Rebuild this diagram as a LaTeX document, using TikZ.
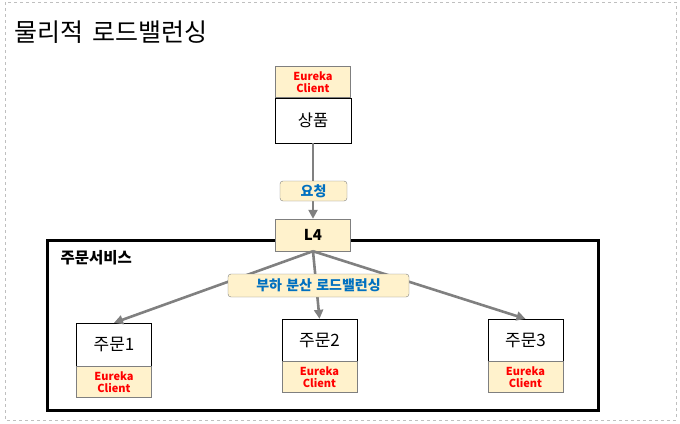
\documentclass[tikz,border=0pt]{standalone}
\usepackage{fontspec}
\setmainfont{Noto Sans CJK KR}
\usepackage{xcolor}
\usetikzlibrary{arrows.meta,positioning}
\definecolor{cream}{HTML}{FFF2CC}
\definecolor{boxgray}{HTML}{7F7F7F}
\definecolor{linegray}{HTML}{808080}
\definecolor{tagblue}{HTML}{0070C0}
\definecolor{dashgray}{HTML}{BFBFBF}

\begin{document}
\begin{tikzpicture}[
  x=1pt,y=-1pt,
  >={Triangle[length=9pt,width=9pt]},
  eureka/.style={draw=boxgray,fill=cream,minimum width=75pt,minimum height=31pt,inner sep=0pt,align=center,text=red,font=\bfseries\fontsize{11}{12}\selectfont},
  svc/.style={draw=black,fill=white,minimum width=75pt,minimum height=43pt,inner sep=0pt,font=\fontsize{17}{18}\selectfont},
  gate/.style={draw=boxgray,fill=cream,minimum width=75pt,minimum height=32pt,inner sep=0pt,font=\bfseries\fontsize{15}{16}\selectfont},
  tag/.style={draw=boxgray,fill=cream,rounded corners=3pt,inner sep=0pt,text=tagblue,font=\bfseries\fontsize{14}{16}\selectfont},
  frame/.style={draw=black,line width=3pt,minimum width=551pt,minimum height=170pt,inner sep=0pt},
  edge/.style={->,draw=linegray,line width=2.6pt}
]
\useasboundingbox (0,0) rectangle (680,423);
\draw[dashgray,dashed,line width=0.8pt] (5,2) rectangle (676,420);
\node[anchor=west,font=\fontsize{25}{28}\selectfont] (title) at (11,32) {물리적\hspace{0.35em}로드밸런싱};

% product service
\node[eureka] (eu0) at (313,82) {Eureka\\Client};
\node[svc,below=0pt of eu0,minimum width=76pt,minimum height=45pt,font=\fontsize{16.5}{18}\selectfont] (prod) {상품};

% order service group
\node[frame] (group) at (322.5,325) {};
\node[anchor=west,font=\bfseries\fontsize{15.5}{17}\selectfont] (grouplbl) at (57,258) {주문서비스};
\node[gate] (l4) at (313,235) {L4};

\node[svc] (ord1) at (114,344.5) {주문1};
\node[eureka,below=0pt of ord1] (eu1) {Eureka\\Client};
\node[svc,minimum height=42pt] (ord2) at (319.5,340) {주문2};
\node[eureka,below=0pt of ord2] (eu2) {Eureka\\Client};
\node[svc,minimum height=42pt] (ord3) at (525.5,340) {주문3};
\node[eureka,below=0pt of ord3] (eu3) {Eureka\\Client};

\draw[edge] (prod) -- (l4);
\foreach \x in {ord1,ord2,ord3} \draw[edge] (l4.south) -- (\x.north);

\node[tag,minimum width=67pt,minimum height=20pt] (req) at (313.5,191) {요청};
\node[tag,minimum width=181pt,minimum height=23pt] (lb) at (318.5,285.5) {부하\hspace{0.3em}분산\hspace{0.3em}로드밸런싱};
\end{tikzpicture}
\end{document}
